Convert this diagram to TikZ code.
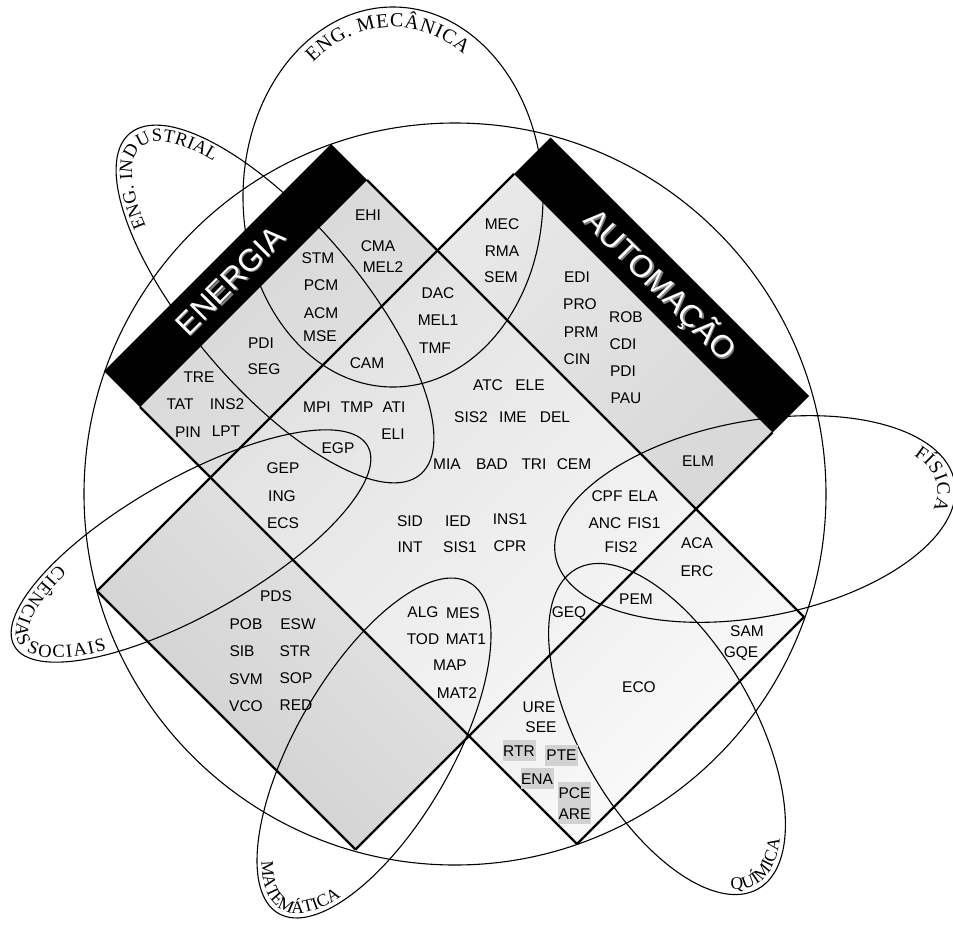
\documentclass[tikz,border=0pt]{standalone}
\usepackage{fontspec}
\setmainfont{Liberation Serif}
\newfontfamily\sansfam{Liberation Sans}
\usetikzlibrary{decorations.text}
\definecolor{tlDark}{RGB}{214,214,214}
\definecolor{tlLight}{RGB}{226,226,226}
\definecolor{trDark}{RGB}{216,216,216}
\definecolor{trLight}{RGB}{232,232,232}
\definecolor{midDark}{RGB}{224,224,224}
\definecolor{midLight}{RGB}{246,246,246}
\definecolor{brDark}{RGB}{236,236,236}
\definecolor{brLight}{RGB}{253,253,253}
\definecolor{blDark}{RGB}{206,206,206}
\definecolor{blLight}{RGB}{230,230,230}
\definecolor{boxgrey}{RGB}{210,210,210}
\newcommand{\lblfont}{\sansfam\fontsize{15.5}{15.5}\selectfont}
\newcommand{\barfont}{\sansfam\fontsize{31}{31}\selectfont}
\newcommand{\arcfont}[1]{\fontsize{#1}{#1}\selectfont}

\begin{document}
\begin{tikzpicture}[x=1pt, y=1pt,
    lbl/.style={font=\lblfont, inner sep=0pt, text height=11pt, text depth=0pt},
    greylbl/.style={lbl, fill=boxgrey, minimum width=33, minimum height=21},
    thinline/.style={line width=1.1pt},
    thickline/.style={line width=2.3pt},
    bartext/.style={font=\barfont, inner sep=0pt, text height=22pt, text depth=0pt},
    ringtext/.style={decorate, decoration={text along path, text align={fit to path}, text={#1}}}]
    \useasboundingbox (0,0) rectangle (953,-924);

    % corners of the cross
    \coordinate (enOutTop) at (331,-144);
    \coordinate (enOutBot) at (104,-371);
    \coordinate (auOutTop) at (550.5,-137.5);
    \coordinate (auOutBot) at (809,-396);
    \coordinate (c1) at (367,-180);
    \coordinate (c2) at (437.5,-250.5);
    \coordinate (c3) at (514,-174);
    \coordinate (c4) at (772.5,-432.5);
    \coordinate (c5) at (696,-509);
    \coordinate (c6) at (804,-617);
    \coordinate (c7) at (577,-844);
    \coordinate (c8) at (469,-736);
    \coordinate (c9) at (355.5,-849.5);
    \coordinate (c10) at (97,-591);
    \coordinate (c11) at (210.5,-477.5);
    \coordinate (c12) at (140,-407);

    % grey fills
    \shade[top color=tlDark, bottom color=tlLight, shading angle=45] (c1) -- (c2) -- (c11) -- (c12) -- cycle;
    \shade[top color=trDark, bottom color=trLight, shading angle=225] (c3) -- (c4) -- (c5) -- (c2) -- cycle;
    \shade[top color=midDark, bottom color=midLight, shading angle=45] (c2) -- (c5) -- (c8) -- (c11) -- cycle;
    \shade[top color=brDark, bottom color=brLight, shading angle=45] (c5) -- (c6) -- (c7) -- (c8) -- cycle;
    \shade[top color=blDark, bottom color=blLight, shading angle=135] (c11) -- (c8) -- (c9) -- (c10) -- cycle;

    % black bars
    \fill (enOutTop) -- (c1) -- (c12) -- (enOutBot) -- cycle;
    \fill (auOutTop) -- (auOutBot) -- (c4) -- (c3) -- cycle;

    % big circle and the ellipses
    \draw[thinline] (455,-494) circle[radius=371];
    \begin{scope}[shift={(393,-197)}]
        \draw[thinline] (0,0) ellipse[x radius=150, y radius=190];
        \path[ringtext={|\arcfont{20}|ENG. MECÂNICA}] (128:130 and 170) arc[start angle=128, end angle=57, x radius=130, y radius=170];
    \end{scope}
    \begin{scope}[shift={(275,-304)}, rotate=-49.5]
        \draw[thinline] (0,0) ellipse[x radius=224, y radius=84];
        \path[ringtext={|\arcfont{18.5}|ENG. INDUSTRIAL}] (226:206 and 66) arc[start angle=226, end angle=136, x radius=206, y radius=66];
    \end{scope}
    \begin{scope}[shift={(191,-546)}, rotate=29.5]
        \draw[thinline] (0,0) ellipse[x radius=203, y radius=68];
        \path[ringtext={|\arcfont{18.5}|CIÊNCIAS SOCIAIS}] (129:198 and 63) arc[start angle=129, end angle=231, x radius=198, y radius=63];
    \end{scope}
    \begin{scope}[shift={(374,-748)}, rotate=60]
        \draw[thinline] (0,0) ellipse[x radius=191, y radius=78];
        \path[ringtext={|\arcfont{17.5}|MATEMÁTICA}] (146:186 and 73) arc[start angle=146, end angle=217, x radius=186, y radius=73];
    \end{scope}
    \begin{scope}[shift={(667,-729)}, rotate=-60.3]
        \draw[thinline] (0,0) ellipse[x radius=184, y radius=87];
        \path[ringtext={|\arcfont{17.5}|QUÍMICA}] (-17:179 and 82) arc[start angle=-17, end angle=32, x radius=179, y radius=82];
    \end{scope}
    \begin{scope}[shift={(755,-519)}, rotate=10.6]
        \draw[thinline] (0,0) ellipse[x radius=203, y radius=98];
        \path[ringtext={|\arcfont{19}|FÍSICA}] (25:185 and 79) arc[start angle=25, end angle=-17, x radius=185, y radius=79];
    \end{scope}

    % thick lines of the cross
    \draw[thickline] (c1) -- (c6);
    \draw[thickline] (c12) -- (c7);
    \draw[thickline] (c3) -- (c10);
    \draw[thickline] (c4) -- (c9);
    \draw[thickline] (c10) -- (c9);
    \draw[thickline] (c6) -- (c7);

    % bar titles
    \node[bartext, text=gray, rotate=45] (energiaShadow) at (231.5,-281.5) {ENERGIA};
    \node[bartext, text=white, rotate=45] (energia) at (230,-280) {ENERGIA};
    \node[bartext, text=gray, rotate=-45] (automacaoShadow) at (662,-286) {AUTOMAÇÃO};
    \node[bartext, text=white, rotate=-45] (automacao) at (660.5,-284.5) {AUTOMAÇÃO};

    % energia arm
    \node[lbl] (ehi) at (368,-215) {EHI};
    \node[lbl] (cma) at (378,-246) {CMA};
    \node[lbl] (mel2) at (383,-267) {MEL2};
    \node[lbl] (stm) at (318,-258) {STM};
    \node[lbl] (pcm) at (321,-285) {PCM};
    \node[lbl] (acm) at (321,-313) {ACM};
    \node[lbl] (mse) at (320,-336) {MSE};
    \node[lbl] (pdiE) at (261,-343) {PDI};
    \node[lbl] (seg) at (264,-369) {SEG};
    \node[lbl] (tre) at (199,-377) {TRE};
    \node[lbl] (tat) at (180,-404) {TAT};
    \node[lbl] (ins2) at (227,-404) {INS2};
    \node[lbl] (pin) at (188,-432) {PIN};
    \node[lbl] (lpt) at (226,-431) {LPT};

    % automacao arm
    \node[lbl] (mec) at (502,-224) {MEC};
    \node[lbl] (rma) at (502,-251) {RMA};
    \node[lbl] (sem) at (501,-277) {SEM};
    \node[lbl] (edi) at (577,-277) {EDI};
    \node[lbl] (pro) at (580,-304) {PRO};
    \node[lbl] (prm) at (581,-332) {PRM};
    \node[lbl] (cin) at (577,-359) {CIN};
    \node[lbl] (rob) at (626,-317) {ROB};
    \node[lbl] (cdi) at (623,-344) {CDI};
    \node[lbl] (pdiA) at (623,-371) {PDI};
    \node[lbl] (pau) at (626,-398) {PAU};
    \node[lbl] (elm) at (698,-461) {ELM};

    % centre
    \node[lbl] (dac) at (438,-293) {DAC};
    \node[lbl] (mel1) at (438,-320) {MEL1};
    \node[lbl] (tmf) at (435,-348) {TMF};
    \node[lbl] (cam) at (367,-363) {CAM};
    \node[lbl] (mpi) at (317,-407) {MPI};
    \node[lbl] (tmp) at (357,-407) {TMP};
    \node[lbl] (ati) at (394,-407) {ATI};
    \node[lbl] (eli) at (393,-434) {ELI};
    \node[lbl] (egp) at (338,-448) {EGP};
    \node[lbl] (gep) at (283,-468) {GEP};
    \node[lbl] (ing) at (282,-496) {ING};
    \node[lbl] (ecs) at (283,-523) {ECS};
    \node[lbl] (atc) at (488,-385) {ATC};
    \node[lbl] (ele) at (530,-385) {ELE};
    \node[lbl] (sis2) at (471,-417) {SIS2};
    \node[lbl] (ime) at (513,-417) {IME};
    \node[lbl] (del) at (555,-417) {DEL};
    \node[lbl] (mia) at (447,-464) {MIA};
    \node[lbl] (bad) at (492,-464) {BAD};
    \node[lbl] (tri) at (534,-464) {TRI};
    \node[lbl] (cem) at (574,-464) {CEM};
    \node[lbl] (sid) at (410,-521) {SID};
    \node[lbl] (ied) at (458,-521) {IED};
    \node[lbl] (ins1) at (510,-519) {INS1};
    \node[lbl] (int) at (410,-547) {INT};
    \node[lbl] (sis1) at (460,-547) {SIS1};
    \node[lbl] (cpr) at (510,-546) {CPR};
    \node[lbl] (cpf) at (607,-496) {CPF};
    \node[lbl] (ela) at (643,-496) {ELA};
    \node[lbl] (anc) at (605,-523) {ANC};
    \node[lbl] (fis1) at (644,-523) {FIS1};
    \node[lbl] (fis2) at (621,-547) {FIS2};
    \node[lbl] (geq) at (569,-612) {GEQ};
    \node[lbl] (alg) at (423,-612) {ALG};
    \node[lbl] (mes) at (463,-613) {MES};
    \node[lbl] (tod) at (423,-639) {TOD};
    \node[lbl] (mat1) at (466,-639) {MAT1};
    \node[lbl] (map) at (450,-665) {MAP};
    \node[lbl] (mat2) at (457,-693) {MAT2};

    % lower right arm
    \node[lbl] (aca) at (697,-543) {ACA};
    \node[lbl] (erc) at (697,-571) {ERC};
    \node[lbl] (pem) at (636,-599) {PEM};
    \node[lbl] (sam) at (747,-631) {SAM};
    \node[lbl] (gqe) at (741,-652) {GQE};
    \node[lbl] (eco) at (639,-687) {ECO};
    \node[lbl] (ure) at (539,-707) {URE};
    \node[lbl] (see) at (541,-727) {SEE};
    \node[greylbl] (rtr) at (519,-750.5) {RTR};
    \node[greylbl] (pte) at (561.5,-755) {PTE};
    \node[greylbl] (ena) at (537,-778.5) {ENA};
    \node[greylbl] (pce) at (574.5,-792.5) {PCE};
    \node[greylbl] (are) at (574.5,-813.5) {ARE};

    % lower left arm
    \node[lbl] (pds) at (276,-596) {PDS};
    \node[lbl] (pob) at (246,-624) {POB};
    \node[lbl] (esw) at (298,-624) {ESW};
    \node[lbl] (sib) at (242,-651) {SIB};
    \node[lbl] (str) at (295,-651) {STR};
    \node[lbl] (svm) at (246,-679) {SVM};
    \node[lbl] (sop) at (296,-678) {SOP};
    \node[lbl] (vco) at (246,-706) {VCO};
    \node[lbl] (red) at (296,-705) {RED};
\end{tikzpicture}
\end{document}
